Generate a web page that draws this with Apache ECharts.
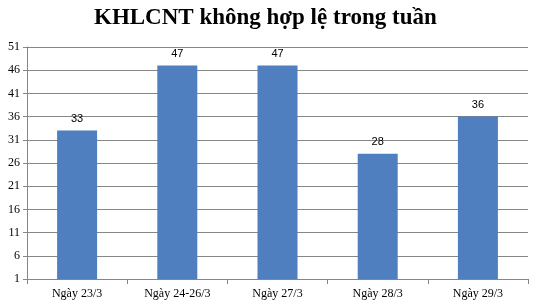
<!DOCTYPE html>
<html><head><meta charset="utf-8">
<script src="https://cdn.jsdelivr.net/npm/echarts@6/dist/echarts.min.js"></script>
<style>html,body{margin:0;padding:0;background:#fff}#c{width:540px;height:306px}</style>
</head><body><div id="c"></div>
<script>
var categories = ['Ngày 23/3', 'Ngày 24-26/3', 'Ngày 27/3', 'Ngày 28/3', 'Ngày 29/3'];
var values = [33, 47, 47, 28, 36];
var yMin = 1, yMax = 51, yStep = 5;

var chart = echarts.init(document.getElementById('c'));
chart.setOption({
  animation: false,
  title: {
    text: 'KHLCNT không hợp lệ trong tuần',
    left: 89, top: 2,
    textStyle: {fontFamily: 'Liberation Serif', fontWeight: 'bold', fontSize: 23, color: '#000'}
  },
  grid: {left: 27, right: 12, top: 47, bottom: 27},
  xAxis: {
    type: 'category', data: categories,
    axisLine: {lineStyle: {color: '#868686'}},
    axisTick: {show: true, length: 5, lineStyle: {color: '#868686'}},
    axisLabel: {fontFamily: 'Liberation Serif', fontSize: 12, color: '#000', margin: 9}
  },
  yAxis: {
    type: 'value', min: yMin, max: yMax, interval: yStep,
    axisLine: {show: true, lineStyle: {color: '#868686'}},
    axisTick: {show: true, length: 4, lineStyle: {color: '#868686'}},
    splitLine: {lineStyle: {color: '#868686'}},
    axisLabel: {fontFamily: 'Liberation Serif', fontSize: 12, color: '#000', margin: 7}
  },
  series: [{
    type: 'bar', data: values, barWidth: 40,
    itemStyle: {color: '#4F7FBE'},
    label: {show: true, position: 'top', distance: 6, fontFamily: 'Liberation Sans', fontSize: 11, color: '#000'}
  }]
});
</script></body></html>
